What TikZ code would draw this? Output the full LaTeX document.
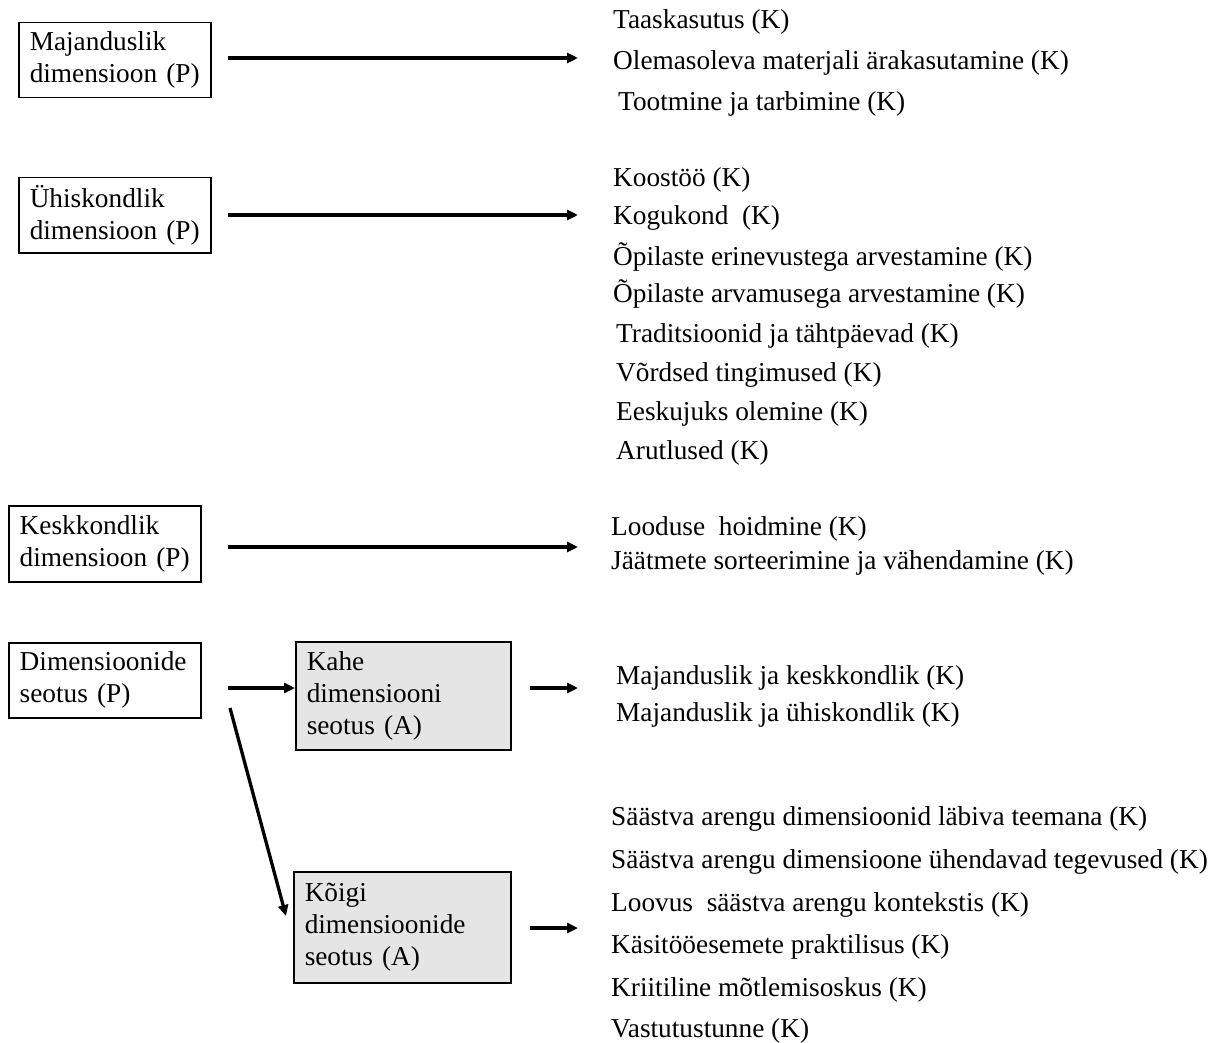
\documentclass[tikz,border=0pt]{standalone}
\usepackage{fontspec}
\setmainfont{Liberation Serif}
\usetikzlibrary{arrows.meta}
\begin{document}
\begin{tikzpicture}[x=1pt,y=-1pt,
  every node/.style={font=\fontsize{27.3}{32}\selectfont},
  dimbox/.style={draw=black,line width=1.5pt,inner xsep=11pt,inner ysep=0pt,align=left,anchor=north west},
  graybox/.style={dimbox,fill=black!10},
  item/.style={anchor=base west,inner sep=0pt},
  conn/.style={line width=3.3pt,-{Triangle[length=11pt,width=10pt]}}]
\useasboundingbox (0,0) rectangle (1220,1043);
% boxes
\node[dimbox,text width=170pt,minimum height=75pt] (b1) at (18,22) {Majanduslik\\dimensioon (P)};
\node[dimbox,text width=170pt,minimum height=75pt] (b2) at (18,177) {Ühiskondlik\\dimensioon (P)};
\node[dimbox,text width=170pt,minimum height=76pt] (b3) at (8,505) {Keskkondlik\\dimensioon (P)};
\node[dimbox,text width=170pt,minimum height=75pt] (b4) at (8,642) {Dimensioonide\\seotus (P)};
\node[graybox,text width=193pt,minimum height=108pt] (b5) at (295,641) {Kahe\\dimensiooni\\seotus (A)};
\node[graybox,text width=195pt,minimum height=111pt] (b6) at (293,871) {Kõigi\\dimensioonide\\seotus (A)};
% arrow end points
\coordinate (a1s) at (228,58);  \coordinate (a1e) at (578,58);
\coordinate (a2s) at (228,215); \coordinate (a2e) at (578,215);
\coordinate (a3s) at (228,547); \coordinate (a3e) at (578,547);
\coordinate (a4s) at (228,688);
\coordinate (a5s) at (530,688); \coordinate (a5e) at (578,688);
\coordinate (a6s) at (230,708); \coordinate (a6e) at (286,916);
\coordinate (a7s) at (530,928); \coordinate (a7e) at (578,928);
\draw[conn] (a1s) -- (a1e);
\draw[conn] (a2s) -- (a2e);
\draw[conn] (a3s) -- (a3e);
\draw[conn] (a4s) -- (b5.west |- a4s);
\draw[conn] (a5s) -- (a5e);
\draw[conn] (a6s) -- (a6e);
\draw[conn] (a7s) -- (a7e);
% items
\node[item] (t1) at (613,29) {Taaskasutus (K)};
\node[item] (t2) at (613,70) {Olemasoleva materjali ärakasutamine (K)};
\node[item] (t3) at (618,111) {Tootmine ja tarbimine (K)};
\node[item] (u1) at (613,187) {Koostöö (K)};
\node[item] (u2) at (613,225) {Kogukond\ \ (K)};
\node[item] (u3) at (613,265) {Õpilaste erinevustega arvestamine (K)};
\node[item] (u4) at (613,302) {Õpilaste arvamusega arvestamine (K)};
\node[item] (u5) at (616,342) {Traditsioonid ja tähtpäevad (K)};
\node[item] (u6) at (616,381) {Võrdsed tingimused (K)};
\node[item] (u7) at (616,420) {Eeskujuks olemine (K)};
\node[item] (u8) at (616,459) {Arutlused (K)};
\node[item] (k1) at (611,535) {Looduse\ \ hoidmine (K)};
\node[item] (k2) at (611,569) {Jäätmete sorteerimine ja vähendamine (K)};
\node[item] (m1) at (616,684) {Majanduslik ja keskkondlik (K)};
\node[item] (m2) at (616,721) {Majanduslik ja ühiskondlik (K)};
\node[item] (s1) at (611,825) {Säästva arengu dimensioonid läbiva teemana (K)};
\node[item] (s2) at (611,868) {Säästva arengu dimensioone ühendavad tegevused (K)};
\node[item] (s3) at (611,911) {Loovus\ \ säästva arengu kontekstis (K)};
\node[item] (s4) at (611,953) {Käsitööesemete praktilisus (K)};
\node[item] (s5) at (611,996) {Kriitiline mõtlemisoskus (K)};
\node[item] (s6) at (611,1037) {Vastutustunne (K)};
\end{tikzpicture}
\end{document}
